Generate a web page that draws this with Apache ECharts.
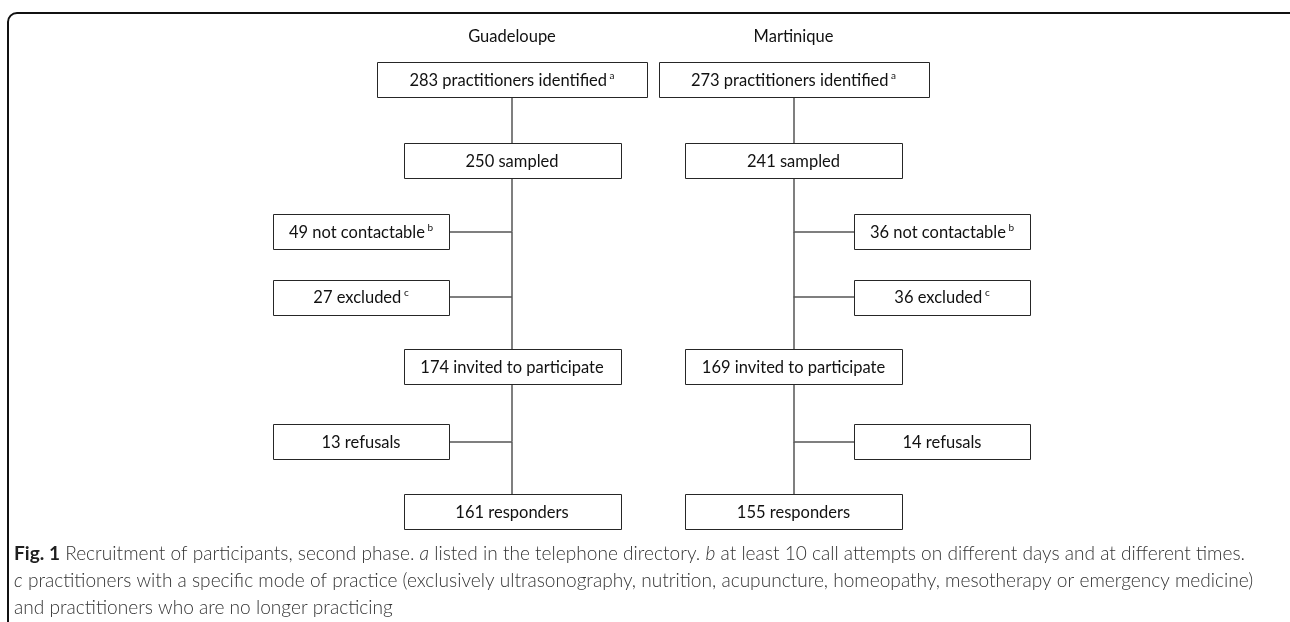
<!DOCTYPE html>
<html>
<head>
<meta charset="utf-8">
<script src="https://cdn.jsdelivr.net/npm/echarts@6/dist/echarts.min.js"></script>
<style>
html,body{margin:0;padding:0;background:#fff;}
#chart{width:1290px;height:622px;}
</style>
</head>
<body>
<div id="chart"></div>
<script>
// ---- data ----
const regions = ['Guadeloupe', 'Martinique'];
const stages = ['practitioners identified', 'sampled', 'not contactable', 'excluded', 'invited to participate', 'refusals', 'responders'];
const guadeloupeCounts = [283, 250, 49, 27, 174, 13, 161];
const martiniqueCounts = [273, 241, 36, 36, 169, 14, 155];
const footnoteMarks = ['a', '', 'b', 'c', '', '', ''];
const captionLines = [
  '{b|Fig. 1} Recruitment of participants, second phase. {i|a} listed in the telephone directory. {i|b} at least 10 call attempts on different days and at different times.',
  '{i|c} practitioners with a specific mode of practice (exclusively ultrasonography, nutrition, acupuncture, homeopathy, mesotherapy or emergency medicine)',
  'and practitioners who are no longer practicing'
];

// ---- layout (styles) ----
const W = 1290, H = 622;
const columnX = [512, 793.5];
const sideX = [361, 942];
const rowY = [79.5, 160.5, 231.5, 297, 366.5, 441.5, 511.5];
const isSide = [false, false, true, true, false, true, false];
const mainWidths = [270, 217, 0, 0, 217, 0, 217];
const sideWidth = 176;
const boxH = 35;
const headerY = 37;
const boxFont = 'Lato, "Open Sans", sans-serif';
const boxFontSize = 16.5;
const capFont = 19.1;

const counts = [guadeloupeCounts, martiniqueCounts];
const linkNodes = [];
const links = [];
const boxes = [];   // rows for the custom series: [x, y, width, height, textIndex]
const boxTexts = [];

for (let c = 0; c < regions.length; c++) {
  linkNodes.push({
    value: [columnX[c], headerY], symbolSize: 0,
    label: {show: true, position: 'inside', formatter: regions[c], fontSize: boxFontSize, color: '#111', fontFamily: boxFont}
  });
  let prevTrunk = null;
  for (let s = 0; s < stages.length; s++) {
    const mark = footnoteMarks[s];
    boxTexts.push('{t|' + counts[c][s] + ' ' + stages[s] + '}' + (mark ? '{s| ' + mark + '}' : ''));
    const bx = isSide[s] ? sideX[c] : columnX[c];
    boxes.push([bx, rowY[s], isSide[s] ? sideWidth : mainWidths[s], boxH, boxTexts.length - 1]);
    const boxIdx = linkNodes.length;
    linkNodes.push({value: [bx, rowY[s]], symbolSize: 0, label: {show: false}});
    if (isSide[s]) {
      const jIdx = linkNodes.length;
      linkNodes.push({value: [columnX[c], rowY[s]], symbolSize: 0, label: {show: false}});
      links.push({source: prevTrunk, target: jIdx});
      links.push({source: boxIdx, target: jIdx});
      prevTrunk = jIdx;
    } else {
      if (prevTrunk !== null) links.push({source: prevTrunk, target: boxIdx});
      prevTrunk = boxIdx;
    }
  }
}

function renderBox(params, api) {
  const p = api.coord([api.value(0), api.value(1)]);
  const w = api.value(2), h = api.value(3);
  const x0 = Math.round(p[0] - w / 2) + 0.5;
  const y0 = Math.round(p[1] - h / 2) + 0.5;
  return {
    type: 'group',
    children: [{
      type: 'rect',
      shape: {x: x0, y: y0, width: w, height: h},
      style: {fill: '#fff', stroke: '#262626', lineWidth: 1}
    }, {
      type: 'text',
      style: {
        x: p[0], y: p[1] + 1, align: 'center', verticalAlign: 'middle',
        text: boxTexts[api.value(4)],
        rich: {
          t: {fontSize: boxFontSize, fill: '#111', fontFamily: boxFont, lineHeight: 20},
          s: {fontSize: 10, fill: '#111', fontFamily: boxFont, lineHeight: 12, verticalAlign: 'top'}
        }
      }
    }]
  };
}

const chart = echarts.init(document.getElementById('chart'), null, {renderer: 'canvas'});
chart.setOption({
  animation: false,
  backgroundColor: '#fff',
  grid: {left: 0, right: 0, top: 0, bottom: 0},
  xAxis: {type: 'value', min: 0, max: W, show: false},
  yAxis: {type: 'value', min: 0, max: H, inverse: true, show: false},
  title: {
    text: captionLines.join('\n'),
    left: 14, top: 540, padding: 0,
    textStyle: {
      fontSize: capFont, fontWeight: 300, color: '#333', lineHeight: 27,
      fontFamily: boxFont,
      rich: {
        b: {fontSize: capFont, fontWeight: 'bold', color: '#1f1f1f', fontFamily: boxFont, lineHeight: 27},
        i: {fontSize: capFont, fontWeight: 300, fontStyle: 'italic', color: '#333', fontFamily: boxFont, lineHeight: 27}
      }
    }
  },
  graphic: [{
    type: 'rect', silent: true, z: -1,
    shape: {x: 8, y: 13, width: 1300, height: 700, r: 9},
    style: {fill: 'none', stroke: '#111', lineWidth: 2}
  }],
  series: [{
    type: 'graph',
    coordinateSystem: 'cartesian2d',
    layout: 'none',
    silent: true,
    data: linkNodes,
    links: links,
    edgeSymbol: ['none', 'none'],
    lineStyle: {color: '#555', width: 1.5, opacity: 1, curveness: 0},
    z: 1
  }, {
    type: 'custom',
    coordinateSystem: 'cartesian2d',
    silent: true,
    data: boxes,
    renderItem: renderBox,
    z: 3
  }]
});
</script>
</body>
</html>
